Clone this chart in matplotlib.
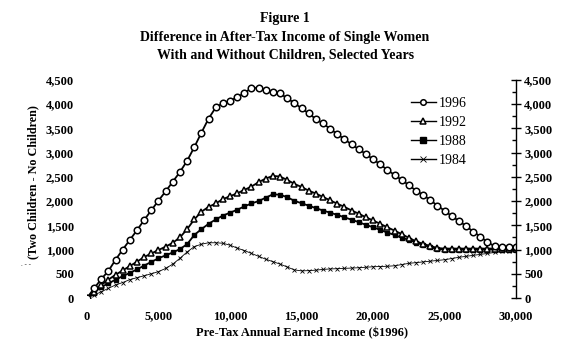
import matplotlib
matplotlib.use("Agg")
import matplotlib.pyplot as plt
from matplotlib.ticker import MultipleLocator, FuncFormatter

income = list(range(0, 30001, 500))

y1996 = [0, 200, 390, 560, 790, 1000, 1200, 1400, 1610, 1810, 2010, 2200, 2400, 2600, 2830,
         3110, 3410, 3700, 3930, 4020, 4070, 4140, 4230, 4330, 4340, 4290, 4245, 4220, 4120,
         4020, 3915, 3810, 3690, 3600, 3490, 3380, 3275, 3170, 3070, 2970, 2860, 2760, 2640,
         2540, 2435, 2330, 2215, 2125, 2020, 1905, 1800, 1690, 1590, 1485, 1370, 1265, 1150,
         1070, 1060, 1055, 1050]
y1992 = [0, 120, 270, 380, 480, 570, 660, 750, 845, 920, 990, 1060, 1140, 1250, 1420,
         1620, 1780, 1880, 1950, 2040, 2100, 2160, 2230, 2300, 2390, 2465, 2520, 2505, 2435,
         2355, 2290, 2215, 2155, 2085, 2015, 1945, 1880, 1805, 1740, 1665, 1600, 1530, 1460,
         1390, 1320, 1240, 1170, 1115, 1075, 1030, 1020, 1020, 1020, 1020, 1020, 1020, 1020,
         1020, 1020, 1020, 1020]
y1988 = [0, 110, 230, 300, 380, 450, 520, 590, 670, 745, 820, 880, 940, 1010, 1110,
         1300, 1420, 1530, 1620, 1700, 1760, 1820, 1890, 1950, 2000, 2070, 2140, 2130, 2080,
         2005, 1955, 1905, 1855, 1805, 1760, 1715, 1665, 1615, 1565, 1510, 1460, 1405, 1350,
         1300, 1245, 1200, 1145, 1095, 1050, 1010, 1000, 1000, 1000, 1000, 1000, 1000, 1000,
         1000, 1000, 1000, 1000]
y1984 = [0, 60, 130, 200, 270, 320, 380, 420, 460, 500, 545, 610, 700, 820, 950,
         1060, 1110, 1140, 1140, 1130, 1090, 1030, 980, 920, 860, 800, 750, 700, 640,
         580, 560, 565, 575, 590, 600, 605, 612, 618, 625, 635, 645, 650, 655,
         665, 690, 715, 730, 745, 760, 775, 790, 815, 840, 860, 880, 900, 920,
         940, 960, 980, 1000]

series_labels = ["1996", "1992", "1988", "1984"]
title_lines = ["Figure 1",
               "Difference in After-Tax Income of Single Women",
               "With and Without Children, Selected Years"]
xlabel = "Pre-Tax Annual Earned Income ($1996)"
ylabel = "(Two Children - No Children)"

serif = ["Liberation Serif", "DejaVu Serif"]
plt.rcParams["font.family"] = serif

fig = plt.figure(figsize=(5.76, 3.63), dpi=100)
ax = fig.add_axes([0.151, 0.179, 0.745, 0.601])

ax.plot(income, y1996, color="black", lw=1.3, marker="o", ms=4.7, mfc="white",
        mec="black", mew=1.1, label=series_labels[0], zorder=5)
ax.plot(income, y1992, color="black", lw=1.3, marker="^", ms=5, mfc="white",
        mec="black", mew=1.1, label=series_labels[1], zorder=4)
ax.plot(income, y1988, color="black", lw=1.3, marker="s", ms=3, mfc="black",
        mec="black", label=series_labels[2], zorder=3)
ax.plot(income, y1984, color="black", lw=0.6, marker="x", ms=3.2, mew=0.6,
        label=series_labels[3], zorder=2)

ax.set_xlim(0, 30000)
ax.set_ylim(0, 4500)

ax2 = ax.twinx()
ax2.set_ylim(0, 4500)

for s in ["top", "bottom", "left", "right"]:
    ax.spines[s].set_visible(False)
for s in ["top", "bottom", "left"]:
    ax2.spines[s].set_visible(False)
ax2.spines["right"].set_linewidth(1.0)

fmt = FuncFormatter(lambda v, p: f"{int(v):,}")
ax.xaxis.set_major_locator(MultipleLocator(5000))
ax.xaxis.set_major_formatter(fmt)
ax.yaxis.set_major_locator(MultipleLocator(500))
ax.yaxis.set_major_formatter(fmt)
ax.tick_params(axis="x", bottom=False, top=False, pad=5.5, labelsize=9)
ax.tick_params(axis="y", left=False, right=False, labelleft=True, labelright=False,
               pad=6, labelsize=9)
for lab in ax.get_xticklabels() + ax.get_yticklabels():
    lab.set_fontweight("bold")

ax2.yaxis.set_major_locator(MultipleLocator(500))
ax2.yaxis.set_minor_locator(MultipleLocator(250))
ax2.yaxis.set_major_formatter(fmt)
ax2.tick_params(axis="y", which="major", direction="inout", length=6.5, width=1.0,
                pad=2.5, labelsize=9, left=False)
ax2.tick_params(axis="y", which="minor", direction="in", length=3, width=1.0, left=False)
for lab in ax2.get_yticklabels():
    lab.set_fontweight("bold")

ax.set_xlabel(xlabel, fontsize=9, fontweight="bold", labelpad=3)
ax.set_ylabel(ylabel, fontsize=8.7, fontweight="bold")
ax.yaxis.set_label_coords(-0.112, 0.53)

fig.text(0.495, 0.95, title_lines[0], ha="center", va="center", fontsize=10, fontweight="bold")
fig.text(0.495, 0.898, title_lines[1], ha="center", va="center", fontsize=10, fontweight="bold")
fig.text(0.495, 0.848, title_lines[2], ha="center", va="center", fontsize=10, fontweight="bold")

fig.text(0.045, 0.27, ". - -", ha="center", va="center", fontsize=5)

leg = ax.legend(loc="upper left", bbox_to_anchor=(0.714, 0.732), bbox_transform=fig.transFigure,
                frameon=False, fontsize=10, handlelength=1.75, handletextpad=0.25,
                labelspacing=0.42, borderpad=0, borderaxespad=0)
for h in leg.legend_handles:
    h.set_markersize(4)
    h.set_linewidth(1.0)

fig.savefig("out.png", dpi=100)
